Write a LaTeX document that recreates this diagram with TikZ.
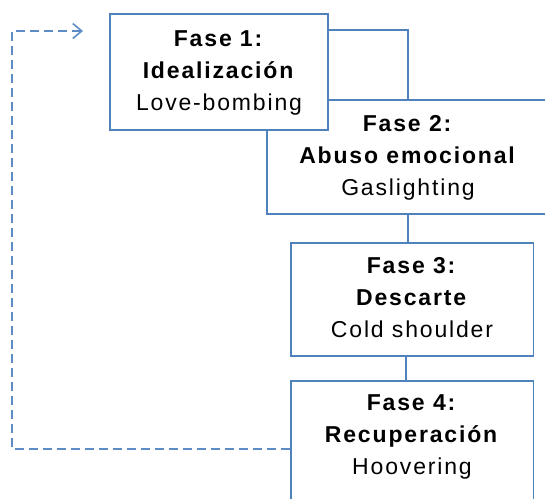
\documentclass[tikz,border=0pt]{standalone}
\usepackage{fontspec}
\setmainfont{Liberation Sans}
\newfontfamily\spacedsans[LetterSpace=8]{Liberation Sans}
\usetikzlibrary{arrows.meta,calc}
\definecolor{lineblue}{HTML}{4F81BD}
\definecolor{dashblue}{HTML}{5E8CC6}
\begin{document}
\begin{tikzpicture}[x=1pt,y=-1pt,
  phasebox/.style={draw=lineblue, line width=1.6pt, fill=white, rectangle, inner sep=0pt},
  boxtext/.style={anchor=north, inner sep=0pt, align=center, font=\spacedsans\fontsize{23}{32}\selectfont, text=black},
  link/.style={draw=lineblue, line width=1.6pt},
  backlink/.style={draw=dashblue, line width=1.6pt, dash pattern=on 9pt off 5pt}]
\useasboundingbox (0,0) rectangle (545,498);
\clip (0,0) rectangle (545,498);
% boxes
\node[phasebox, minimum width=282.6pt, minimum height=114pt] (b2) at (408,157) {};
\node[phasebox, minimum width=218pt, minimum height=116pt] (b1) at (219,72) {};
\node[phasebox, minimum width=242.6pt, minimum height=113.3pt] (b3) at (412,299.4) {};
\node[phasebox, minimum width=242.6pt, minimum height=124pt] (b4) at (412,443) {};
% texts
\node[boxtext] (t1) at ([yshift=-17pt]b1.north) {\textbf{Fase 1:}\\\textbf{Idealización}\\Love-bombing};
\node[boxtext] (t2) at ([yshift=-16pt]b2.north) {\textbf{Fase 2:}\\\textbf{Abuso emocional}\\Gaslighting};
\node[boxtext] (t3) at ([yshift=-15pt]b3.north) {\textbf{Fase 3:}\\\textbf{Descarte}\\Cold shoulder};
\node[boxtext] (t4) at ([yshift=-14pt]b4.north) {\textbf{Fase 4:}\\\textbf{Recuperación}\\Hoovering};
% connectors
\draw[link] ([yshift=-17pt]b1.north east) -| (b2.north);
\draw[link] (b2.south) -- (b2.south |- b3.north);
\draw[link] ([xshift=-6pt]b3.south) -- ([xshift=-6pt]b4.north);
\coordinate (corner) at (12,31);
\coordinate (tip) at (83,31);
\draw[backlink, -{Straight Barb[length=9pt,width=15pt]}] ([yshift=-69pt]b4.north west) -| (corner) -- (tip);
\end{tikzpicture}
\end{document}
